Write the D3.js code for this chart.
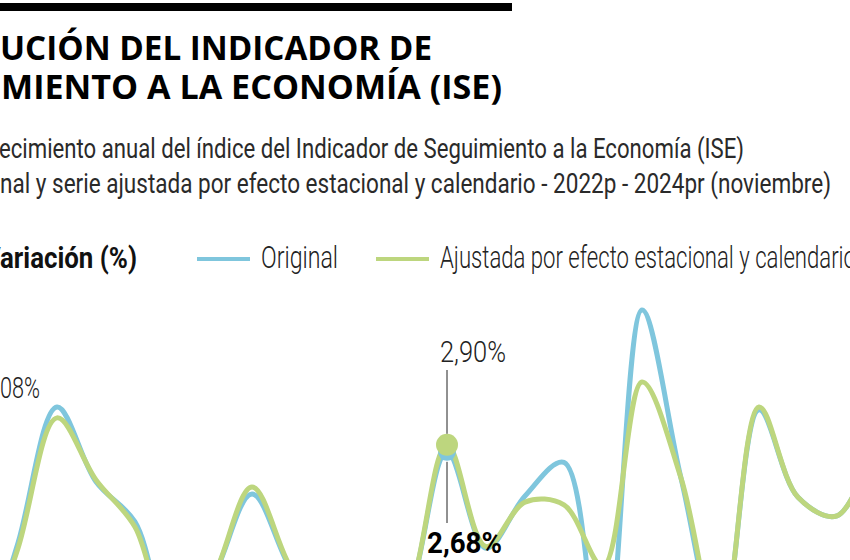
<!DOCTYPE html>
<html><head><meta charset="utf-8">
<script src="https://cdn.jsdelivr.net/npm/d3@7/dist/d3.min.js"></script>
<style>html,body{margin:0;padding:0;background:#fff;overflow:hidden}</style>
</head><body>
<svg id="c" width="850" height="560"></svg>
<script>
// ---- data ----
const periodIndex = d3.range(24);           // consecutive monthly periods visible in the crop
const original   = [-4.0,-0.17,4.08,1.74,0.49,-3.0,-1.25,1.36,-1.0,-2.5,-3.5,-1.8,2.68,-0.33,1.3,2.35,-4.2,7.11,1.86,-3.0,3.99,1.26,0.68,3.05];
const ajustada   = [-3.8,-0.33,3.74,1.80,0.33,-3.0,-1.25,1.58,-0.95,-2.5,-3.5,-1.8,2.90,-0.28,1.11,1.02,-0.9,4.86,1.86,-3.0,4.08,1.26,0.68,3.05];
const seriesNames = ["Original", "Ajustada por efecto estacional y calendario"];
const highlightIdx = 12;
const peakLabelIdx = 2;
const titleLines = ["EVOLUCIÓN DEL INDICADOR DE", "SEGUIMIENTO A LA ECONOMÍA (ISE)"];
const subtitleLines = ["Crecimiento anual del índice del Indicador de Seguimiento a la Economía (ISE)",
  "Serie original y serie ajustada por efecto estacional y calendario - 2022p - 2024pr (noviembre)"];
const axisTitle = "Variación (%)";
const fmt = v => d3.format(".2f")(v).replace(".", ",") + "%";

// ---- drawing ----
const svg = d3.select("#c");
const BLUE = "#7fc6dd", GREEN = "#bdd67e";

// fit a text so that a visible suffix spans [x0,x1]
function fitText(sel, full, suffix, x0, x1) {
  sel.text(suffix);
  const ws = sel.node().getComputedTextLength();
  sel.text(full);
  const wf = sel.node().getComputedTextLength();
  const k = (x1 - x0) / ws;
  sel.attr("x", x1 - wf * k).attr("textLength", wf * k).attr("lengthAdjust", "spacingAndGlyphs");
  return sel;
}

svg.append("rect").attr("x", 0).attr("y", 3).attr("width", 512).attr("height", 8).attr("fill", "#000");

const tFont = "'Open Sans', sans-serif";
fitText(svg.append("text").attr("y", 60).attr("font-family", tFont).attr("font-weight", 700).attr("font-size", 34).attr("fill", "#000"),
  titleLines[0], "UCIÓN DEL INDICADOR DE", 0, 432);
fitText(svg.append("text").attr("y", 99).attr("font-family", tFont).attr("font-weight", 700).attr("font-size", 34).attr("fill", "#000"),
  titleLines[1], "MIENTO A LA ECONOMÍA (ISE)", 1, 502);

const cFont = "Roboto, sans-serif";
fitText(svg.append("text").attr("y", 158).attr("font-family", cFont).attr("font-weight", 400).attr("font-size", 28).attr("fill", "#2a2a2a"),
  subtitleLines[0], "ecimiento anual del índice del Indicador de Seguimiento a la Economía (ISE)", -1, 744);
fitText(svg.append("text").attr("y", 193).attr("font-family", cFont).attr("font-weight", 400).attr("font-size", 28).attr("fill", "#2a2a2a"),
  subtitleLines[1], "nal y serie ajustada por efecto estacional y calendario - 2022p - 2024pr (noviembre)", 0, 831);

// legend
fitText(svg.append("text").attr("y", 268).attr("font-family", cFont).attr("font-weight", 700).attr("font-size", 30).attr("fill", "#111"),
  axisTitle, "ariación (%)", 0, 137);
const legend = [{x: 197, c: BLUE, t: seriesNames[0], w: 77}, {x: 376, c: GREEN, t: seriesNames[1], w: 416}];
legend.forEach(l => {
  svg.append("line").attr("x1", l.x).attr("x2", l.x + 53).attr("y1", 259).attr("y2", 259)
    .attr("stroke", l.c).attr("stroke-width", 4);
  const t = svg.append("text").attr("y", 268).attr("font-family", cFont).attr("font-weight", 300)
    .attr("font-size", 31).attr("fill", "#222").text(l.t);
  fitText(t, l.t, l.t, l.x + 64, l.x + 64 + l.w);
});

// scales
const x = d3.scaleLinear().domain([0, 23]).range([-21, 876]);
const y = d3.scaleLinear().domain([0, 4.08]).range([537.6, 407]);
const line = d3.line().x((d, i) => x(periodIndex[i])).y(d => y(d)).curve(d3.curveCatmullRom);

svg.append("path").datum(original).attr("d", line).attr("fill", "none")
  .attr("stroke", BLUE).attr("stroke-width", 5).attr("stroke-linecap", "round");
svg.append("path").datum(ajustada).attr("d", line).attr("fill", "none")
  .attr("stroke", GREEN).attr("stroke-width", 5).attr("stroke-linecap", "round");

// highlighted point
const hx = x(periodIndex[highlightIdx]);
svg.append("circle").attr("cx", hx).attr("cy", y(original[highlightIdx])).attr("r", 9).attr("fill", BLUE);
svg.append("circle").attr("cx", hx).attr("cy", y(ajustada[highlightIdx])).attr("r", 11).attr("fill", GREEN);
svg.append("line").attr("x1", hx).attr("x2", hx).attr("y1", 370).attr("y2", y(ajustada[highlightIdx]) - 11)
  .attr("stroke", "#222").attr("stroke-width", 1);
svg.append("line").attr("x1", hx).attr("x2", hx).attr("y1", y(original[highlightIdx]) + 10).attr("y2", 523)
  .attr("stroke", "#222").attr("stroke-width", 1);
const l1 = svg.append("text").attr("y", 362).attr("font-family", cFont).attr("font-weight", 300).attr("font-size", 30).attr("fill", "#222");
fitText(l1, fmt(ajustada[highlightIdx]), fmt(ajustada[highlightIdx]), 440, 506);
const l2 = svg.append("text").attr("y", 553).attr("font-family", cFont).attr("font-weight", 700).attr("font-size", 30).attr("fill", "#000");
fitText(l2, fmt(original[highlightIdx]), fmt(original[highlightIdx]), 427, 502);

// peak label
const l3 = svg.append("text").attr("y", 398).attr("font-family", cFont).attr("font-weight", 300).attr("font-size", 30).attr("fill", "#222");
const s3 = fmt(original[peakLabelIdx]);
fitText(l3, s3, s3.slice(2), 0, 40);
</script>
</body></html>
